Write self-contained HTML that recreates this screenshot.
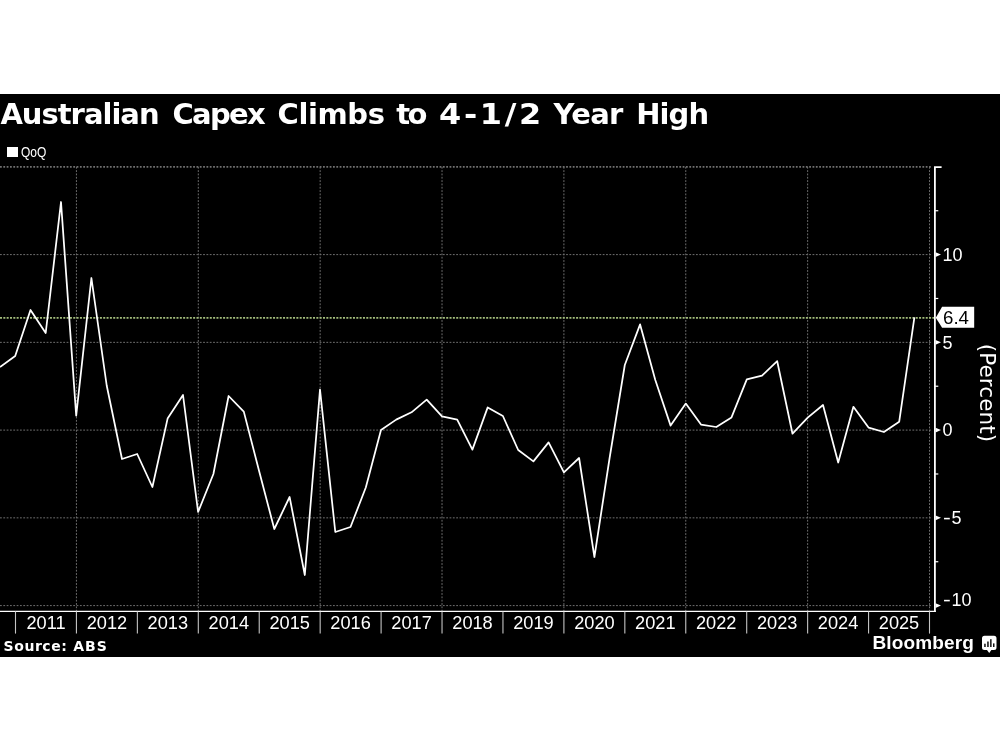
<!DOCTYPE html>
<html><head><meta charset="utf-8"><title>Australian Capex Climbs to 4-1/2 Year High</title>
<style>
html,body{margin:0;padding:0;background:#fff;}
body{width:1000px;height:750px;position:relative;overflow:hidden;font-family:"Liberation Sans",sans-serif;color:#fff;}
#bg{position:absolute;left:0;top:94px;width:1000px;height:563px;background:#000;}
#title{position:absolute;left:0;top:97.3px;width:720px;height:34px;font:bold 29px/34px "DejaVu Sans","Liberation Sans",sans-serif;white-space:nowrap;}
#title span{position:absolute;top:0;display:block;}
#legsq{position:absolute;left:7px;top:146.5px;width:10.5px;height:10px;background:#fff;}
#leg{position:absolute;left:21px;top:143px;font-size:15px;line-height:17px;transform:scaleX(0.8);transform-origin:0 0;white-space:nowrap;}
.xl{position:absolute;top:612px;width:60px;text-align:center;font-size:18.2px;line-height:22px;}
.yl{position:absolute;left:942.5px;font-size:18px;line-height:22px;white-space:nowrap;}
.hy{display:inline-block;width:8.4px;transform:scaleX(1.3);transform-origin:0 50%;margin-left:0.7px;}
#val{position:absolute;left:943px;top:306.5px;color:#000;font-size:18.7px;line-height:22px;}
#pct{position:absolute;left:987px;top:393.2px;width:0;height:0;}
#pct span{position:absolute;display:block;width:140px;height:24px;left:-70px;top:-12px;text-align:center;font:21.5px/24px "DejaVu Sans","Liberation Sans",sans-serif;letter-spacing:0.1px;transform:rotate(90deg);white-space:nowrap;}
#src{position:absolute;left:0;top:637.8px;width:200px;height:17px;font:bold 14px/17px "DejaVu Sans","Liberation Sans",sans-serif;letter-spacing:0.55px;white-space:nowrap;}
#src span{position:absolute;top:0;display:block;}
#bb{position:absolute;left:872.5px;top:631.5px;font:bold 19px/22px "Liberation Sans",sans-serif;letter-spacing:0.15px;white-space:nowrap;}
</style></head><body>
<div id="bg"></div>
<svg width="1000" height="750" viewBox="0 0 1000 750" style="position:absolute;left:0;top:0"><line x1="0" x2="931.5" y1="166.85" y2="166.85" stroke="#707070" stroke-width="1.7" stroke-dasharray="1.8 1.53"/><line x1="0" x2="931.5" y1="254.60" y2="254.60" stroke="#707070" stroke-width="1" stroke-dasharray="1.8 1.53"/><line x1="0" x2="931.5" y1="342.35" y2="342.35" stroke="#707070" stroke-width="1" stroke-dasharray="1.8 1.53"/><line x1="0" x2="931.5" y1="430.10" y2="430.10" stroke="#707070" stroke-width="1" stroke-dasharray="1.8 1.53"/><line x1="0" x2="931.5" y1="517.85" y2="517.85" stroke="#707070" stroke-width="1" stroke-dasharray="1.8 1.53"/><line x1="0" x2="931.5" y1="605.60" y2="605.60" stroke="#707070" stroke-width="1" stroke-dasharray="1.8 1.53"/><line x1="76.43" x2="76.43" y1="166.85" y2="611" stroke="#707070" stroke-width="1" stroke-dasharray="1.8 1.53"/><line x1="198.30" x2="198.30" y1="166.85" y2="611" stroke="#707070" stroke-width="1" stroke-dasharray="1.8 1.53"/><line x1="320.17" x2="320.17" y1="166.85" y2="611" stroke="#707070" stroke-width="1" stroke-dasharray="1.8 1.53"/><line x1="442.03" x2="442.03" y1="166.85" y2="611" stroke="#707070" stroke-width="1" stroke-dasharray="1.8 1.53"/><line x1="563.90" x2="563.90" y1="166.85" y2="611" stroke="#707070" stroke-width="1" stroke-dasharray="1.8 1.53"/><line x1="685.76" x2="685.76" y1="166.85" y2="611" stroke="#707070" stroke-width="1" stroke-dasharray="1.8 1.53"/><line x1="807.63" x2="807.63" y1="166.85" y2="611" stroke="#707070" stroke-width="1" stroke-dasharray="1.8 1.53"/><line x1="929.50" x2="929.50" y1="166.85" y2="611" stroke="#707070" stroke-width="1" stroke-dasharray="1.8 1.53"/><line x1="0" x2="935" y1="317.78" y2="317.78" stroke="#a3bd7c" stroke-width="1.8" stroke-dasharray="2 1.33"/><polyline points="0,367 15.2,356 30.5,310 45.7,333 61,202 76.2,415.6 91.4,278 106.7,385.5 122,459 137.2,454 152.4,487 167.6,418.6 183,395 198.1,512 213.4,474 228.6,396 243.8,411.6 259.1,471 274.3,529 289.6,497 304.8,575 320,389.6 335.3,532 350.5,527 365.8,487.5 381,430 396.2,419.6 411.5,412.3 426.7,399.6 442,416.4 457.2,419.6 472.4,449.6 487.7,407.4 502.9,416 518.2,450 533.4,461.4 548.6,442.4 563.9,472.4 579.1,458 594.4,557 609.6,458 624.8,365 640.1,324.4 655.3,380 670.6,425.6 685.8,403.6 701,424.6 716.3,427 731.5,417.4 746.8,379.4 762,375.6 777.2,361.2 792.5,433.7 807.7,417.6 823,405 838.2,462.5 853.4,406.8 868.7,427.7 883.9,432 899.2,421.7 914.4,317.3" fill="none" stroke="#fff" stroke-width="1.75" stroke-linejoin="round"/><line x1="0" x2="935.8" y1="611.4" y2="611.4" stroke="#fff" stroke-width="1.3"/><line x1="15.50" x2="15.50" y1="611.4" y2="633.6" stroke="#c4c4c4" stroke-width="1.1"/><line x1="76.43" x2="76.43" y1="611.4" y2="633.6" stroke="#c4c4c4" stroke-width="1.1"/><line x1="137.37" x2="137.37" y1="611.4" y2="633.6" stroke="#c4c4c4" stroke-width="1.1"/><line x1="198.30" x2="198.30" y1="611.4" y2="633.6" stroke="#c4c4c4" stroke-width="1.1"/><line x1="259.23" x2="259.23" y1="611.4" y2="633.6" stroke="#c4c4c4" stroke-width="1.1"/><line x1="320.17" x2="320.17" y1="611.4" y2="633.6" stroke="#c4c4c4" stroke-width="1.1"/><line x1="381.10" x2="381.10" y1="611.4" y2="633.6" stroke="#c4c4c4" stroke-width="1.1"/><line x1="442.03" x2="442.03" y1="611.4" y2="633.6" stroke="#c4c4c4" stroke-width="1.1"/><line x1="502.96" x2="502.96" y1="611.4" y2="633.6" stroke="#c4c4c4" stroke-width="1.1"/><line x1="563.90" x2="563.90" y1="611.4" y2="633.6" stroke="#c4c4c4" stroke-width="1.1"/><line x1="624.83" x2="624.83" y1="611.4" y2="633.6" stroke="#c4c4c4" stroke-width="1.1"/><line x1="685.76" x2="685.76" y1="611.4" y2="633.6" stroke="#c4c4c4" stroke-width="1.1"/><line x1="746.70" x2="746.70" y1="611.4" y2="633.6" stroke="#c4c4c4" stroke-width="1.1"/><line x1="807.63" x2="807.63" y1="611.4" y2="633.6" stroke="#c4c4c4" stroke-width="1.1"/><line x1="868.56" x2="868.56" y1="611.4" y2="633.6" stroke="#c4c4c4" stroke-width="1.1"/><line x1="929.50" x2="929.50" y1="611.4" y2="633.6" stroke="#c4c4c4" stroke-width="1.1"/><path d="M941.6 167.15 L934.9 167.15 L934.9 612" fill="none" stroke="#fff" stroke-width="1.8"/><line x1="935" x2="938.3" y1="210.73" y2="210.73" stroke="#fff" stroke-width="1.2"/><line x1="935" x2="938.3" y1="298.48" y2="298.48" stroke="#fff" stroke-width="1.2"/><line x1="935" x2="938.3" y1="386.23" y2="386.23" stroke="#fff" stroke-width="1.2"/><line x1="935" x2="938.3" y1="473.98" y2="473.98" stroke="#fff" stroke-width="1.2"/><line x1="935" x2="938.3" y1="561.73" y2="561.73" stroke="#fff" stroke-width="1.2"/><path d="M935.5 252.20 L941 254.60 L935.5 257.00 Z" fill="#fff"/><path d="M935.5 339.95 L941 342.35 L935.5 344.75 Z" fill="#fff"/><path d="M935.5 427.70 L941 430.10 L935.5 432.50 Z" fill="#fff"/><path d="M935.5 515.45 L941 517.85 L935.5 520.25 Z" fill="#fff"/><path d="M935.5 603.20 L941 605.60 L935.5 608.00 Z" fill="#fff"/><path d="M935.8 317.78 L942.1 306.8 L974.2 306.8 L974.2 327.7 L942.1 327.7 Z" fill="#fff"/><path d="M984.5 635.7 h9.5 a2.5 2.5 0 0 1 2.5 2.5 v9.4 a2.5 2.5 0 0 1 -2.5 2.5 h-2.6 l-2.2 2.8 l-2.2 -2.8 h-2.5 a2.5 2.5 0 0 1 -2.5 -2.5 v-9.4 a2.5 2.5 0 0 1 2.500 -2.5 z" fill="#fff"/><rect x="984.2" y="643.7" width="1.5" height="3.3" fill="#111"/><rect x="987.2" y="641.5" width="1.5" height="5.5" fill="#111"/><rect x="990.1" y="639.2" width="1.5" height="7.8" fill="#111"/><rect x="993" y="643.4" width="1.5" height="3.6" fill="#111"/></svg>
<div id="title"><span style="left:0.4px;letter-spacing:-1px">Australian</span> <span style="left:172.5px;letter-spacing:-1.7px">Capex</span> <span style="left:277.5px;letter-spacing:-0.4px">Climbs</span> <span style="left:396.25px;letter-spacing:-2.5px">to</span> <span style="left:438.9px;letter-spacing:2.44px;transform:scaleX(1.1);transform-origin:0 0">4-1/2</span> <span style="left:553.5px;letter-spacing:-0.67px">Year</span> <span style="left:636.2px;letter-spacing:-0.9px">High</span></div>
<div id="legsq"></div><div id="leg">QoQ</div>
<div class="xl" style="left:16.0px">2011</div><div class="xl" style="left:76.9px">2012</div><div class="xl" style="left:137.8px">2013</div><div class="xl" style="left:198.8px">2014</div><div class="xl" style="left:259.7px">2015</div><div class="xl" style="left:320.6px">2016</div><div class="xl" style="left:381.6px">2017</div><div class="xl" style="left:442.5px">2018</div><div class="xl" style="left:503.4px">2019</div><div class="xl" style="left:564.4px">2020</div><div class="xl" style="left:625.3px">2021</div><div class="xl" style="left:686.2px">2022</div><div class="xl" style="left:747.2px">2023</div><div class="xl" style="left:808.1px">2024</div><div class="xl" style="left:869.0px">2025</div>
<div class="yl" style="top:243.7px">10</div><div class="yl" style="top:331.5px">5</div><div class="yl" style="top:419.2px">0</div><div class="yl" style="top:507.0px"><span class="hy">-</span>5</div><div class="yl" style="top:589.1px"><span class="hy">-</span>10</div>
<div id="val">6.4</div>
<div id="pct"><span>(Percent)</span></div>
<div id="src"><span style="left:3.6px">Source:</span> <span style="left:73.2px;letter-spacing:1px">ABS</span></div>
<div id="bb">Bloomberg</div>
</body></html>
